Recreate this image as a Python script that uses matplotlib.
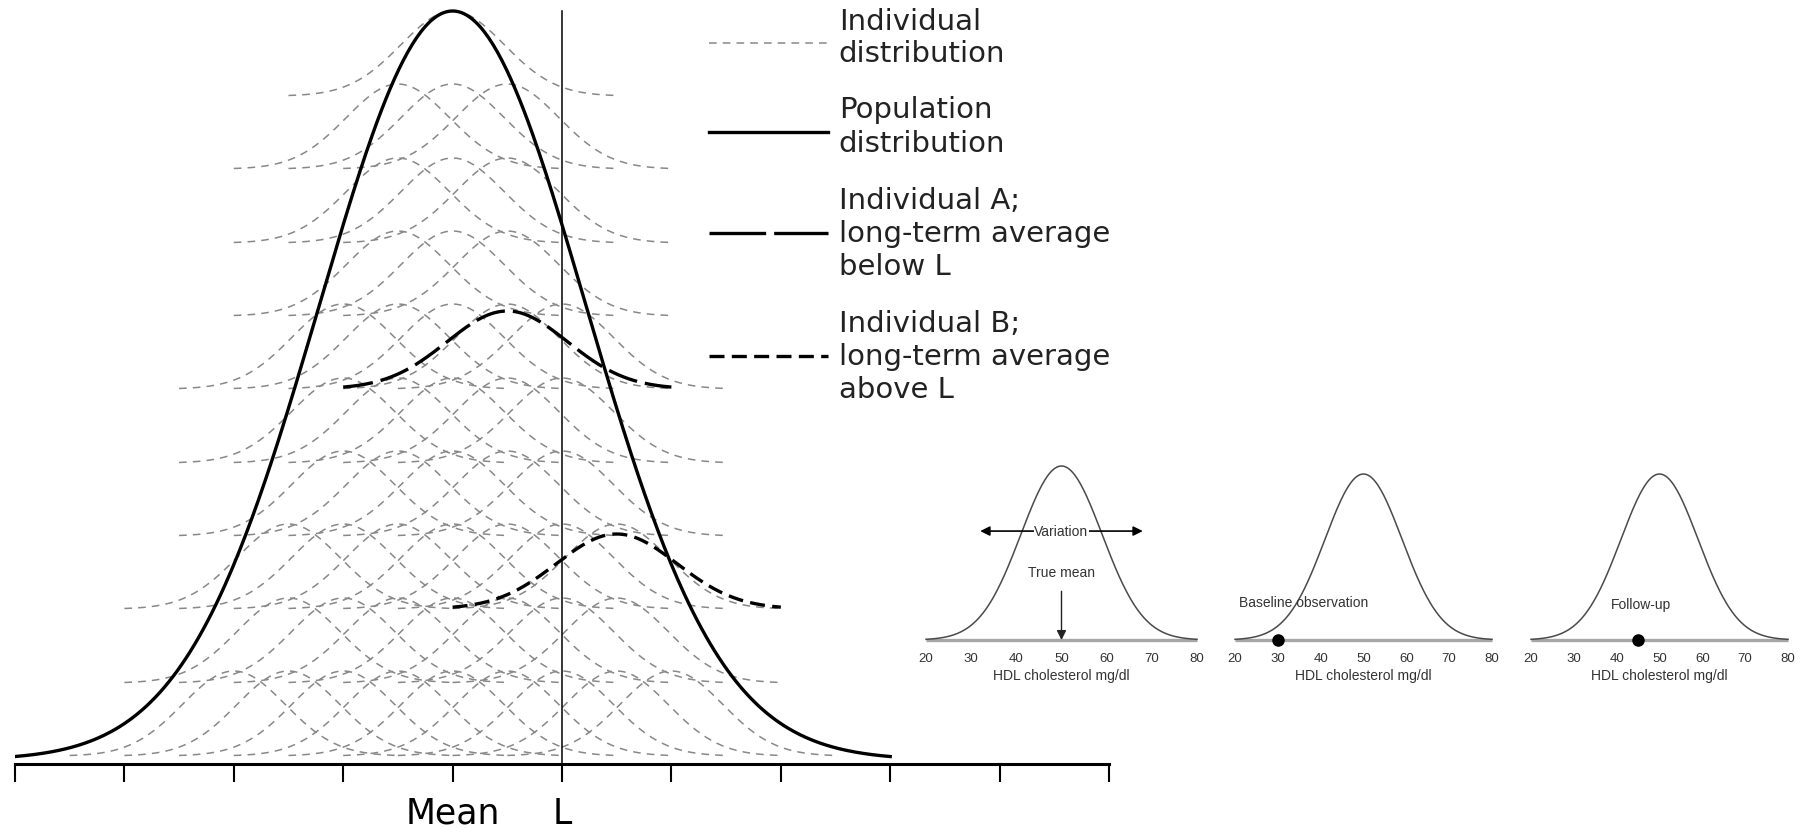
import numpy as np
import matplotlib.pyplot as plt

plt.rcParams['font.family'] = ['DejaVu Sans']

W, H = 1808, 829
fig = plt.figure(figsize=(W / 100, H / 100), dpi=100)

# ---------------- left panel ----------------
# x in tick steps (Mean at 4, L at 5), y in pixels above the axis line
tick_pos = list(range(11))
tick_text = ['', '', '', '', 'Mean', 'L', '', '', '', '', '']
mean_pos = 4.0
limit_pos = 5.0

# centre of each individual curve, as offset from the mean in ticks, top row first
row_offsets = [
    [0.0],
    [-0.5, 0.0, 0.5],
    [-0.5, 0.0, 0.5],
    [-0.5, 0.0, 0.5],
    [-1.0, -0.5, 0.0, 0.5, 1.0],
    [-1.0, -0.5, 0.0, 0.5, 1.0],
    [-1.0, -0.5, 0.0, 0.5, 1.0],
    [-1.5, -1.0, -0.5, 0.0, 0.5, 1.0, 1.5],
    [-1.5, -1.0, -0.5, 0.0, 0.5, 1.0, 1.5],
    [-2.0, -1.5, -1.0, -0.5, 0.0, 0.5, 1.0, 1.5, 2.0],
]
row_base = [668, 595, 521, 448, 375, 301, 228, 155, 81, 8]
indiv_sd = 0.47
indiv_peak = 85
indiv_span = 1.5

pop_sd = 1.22
pop_peak = 749
pop_base = 4
pop_span = 4.0

# individual A and B: centre, row, peak height, sd
a_centre, a_row, a_peak, a_sd = 4.5, 4, 78, 0.55
b_centre, b_row, b_peak, b_sd = 5.5, 7, 75, 0.55

legend_labels = [
    ['Individual', 'distribution'],
    ['Population', 'distribution'],
    ['Individual A;', 'long-term average', 'below L'],
    ['Individual B;', 'long-term average', 'above L'],
]

GREY_DASH = dict(color='#888888', lw=1.1, dashes=(5, 4))
POP_LINE = dict(color='black', lw=2.4)
A_LINE = dict(color='black', lw=2.4, dashes=(9, 2.4))
B_LINE = dict(color='black', lw=2.4, dashes=(4.5, 2.2))


def bell(x, c, sd):
    return np.exp(-(x - c) ** 2 / (2 * sd ** 2))


ax1 = fig.add_axes([15 / W, (H - 765) / H, 1094 / W, 765 / H])
ax1.set_xlim(0, 10)
ax1.set_ylim(0, 765)

for offs, base in zip(row_offsets, row_base):
    for o in offs:
        c = mean_pos + o
        xs = np.linspace(c - indiv_span, c + indiv_span, 200)
        ax1.plot(xs, base + indiv_peak * bell(xs, c, indiv_sd), zorder=1, **GREY_DASH)

xs = np.linspace(mean_pos - pop_span, mean_pos + pop_span, 400)
ax1.plot(xs, pop_base + pop_peak * bell(xs, mean_pos, pop_sd), zorder=4, **POP_LINE)

xs = np.linspace(a_centre - 1.5, a_centre + 1.5, 200)
ax1.plot(xs, row_base[a_row] + a_peak * bell(xs, a_centre, a_sd), zorder=4, **A_LINE)
xs = np.linspace(b_centre - 1.5, b_centre + 1.5, 200)
ax1.plot(xs, row_base[b_row] + b_peak * bell(xs, b_centre, b_sd), zorder=4, **B_LINE)

# limit L
ax1.plot([limit_pos, limit_pos], [0, 753], color='black', lw=1.1, zorder=3)

for s in ['left', 'right', 'top']:
    ax1.spines[s].set_visible(False)
ax1.spines['bottom'].set_linewidth(2.2)
ax1.set_yticks([])
ax1.set_xticks(tick_pos, tick_text)
ax1.tick_params(axis='x', direction='out', length=13, width=1.5, pad=10, labelsize=25)

# legend drawn by hand
leg_line_y = [721, 632, 531, 408]
leg_styles = [GREY_DASH, POP_LINE, dict(A_LINE, dashes=(17, 2.4)), B_LINE]
line_step = 33
for lines, ly, st in zip(legend_labels, leg_line_y, leg_styles):
    ax1.plot([6.34, 7.43], [ly, ly], clip_on=False, **st)
    n = len(lines)
    top = ly + 6 + (n - 1) * line_step / 2 if n == 2 else ly + line_step
    for i, t in enumerate(lines):
        ax1.text(7.53, top - i * line_step, t, fontsize=21, color='#222222',
                 ha='left', va='center')

# ---------------- right panels ----------------
hdl_ticks = [20, 30, 40, 50, 60, 70, 80]
hdl_mean = 50
hdl_sd = 9
variation_range = (32, 68)
baseline_value = 30
followup_value = 45

panel_px = [(926, 1197, 467), (1235, 1492, 475), (1531, 1788, 475)]
small = dict(family=['Liberation Sans', 'DejaVu Sans'], color='#333333')

axes_small = []
for x0, x1, top in panel_px:
    ax = fig.add_axes([x0 / W, (H - 641) / H, (x1 - x0) / W, (641 - top) / H])
    ax.set_xlim(20, 80)
    ax.set_ylim(0, 1)
    hx = np.linspace(20, 80, 300)
    ax.plot([20, 80], [0, 0], color='#a6a6a6', lw=2.4, solid_capstyle='butt', clip_on=False)
    ax.plot(hx, bell(hx, hdl_mean, hdl_sd), color='#4a4a4a', lw=1.1, clip_on=False)
    for s in ax.spines.values():
        s.set_visible(False)
    ax.set_yticks([])
    ax.set_xticks(hdl_ticks)
    ax.set_xticklabels([str(t) for t in hdl_ticks], fontsize=9.5, **small)
    ax.tick_params(axis='x', length=0, pad=8.5)
    ax.set_xlabel('HDL cholesterol mg/dl', fontsize=10, labelpad=3, **small)
    axes_small.append(ax)

p1, p2, p3 = axes_small
p1.annotate('', xy=(variation_range[0], 0.626), xytext=(variation_range[1], 0.626),
            arrowprops=dict(arrowstyle='<|-|>', color='black', lw=1.2,
                            mutation_scale=14, shrinkA=0, shrinkB=0))
p1.text(hdl_mean, 0.626, 'Variation', ha='center', va='center', fontsize=10,
        bbox=dict(facecolor='white', edgecolor='none', pad=0.3), **small)
p1.text(hdl_mean, 0.39, 'True mean', ha='center', va='center', fontsize=10, **small)
p1.annotate('', xy=(hdl_mean, 0.0), xytext=(hdl_mean, 0.28),
            arrowprops=dict(arrowstyle='-|>', color='#222222', lw=1.0,
                            mutation_scale=14, shrinkA=0, shrinkB=0))

p2.text(36, 0.23, 'Baseline observation', ha='center', va='center', fontsize=10, **small)
p2.plot([baseline_value], [0], 'o', color='black', ms=8, clip_on=False, zorder=5)

p3.text(45.7, 0.217, 'Follow-up', ha='center', va='center', fontsize=10, **small)
p3.plot([followup_value], [0], 'o', color='black', ms=8, clip_on=False, zorder=5)

fig.savefig('out.png', dpi=100)
